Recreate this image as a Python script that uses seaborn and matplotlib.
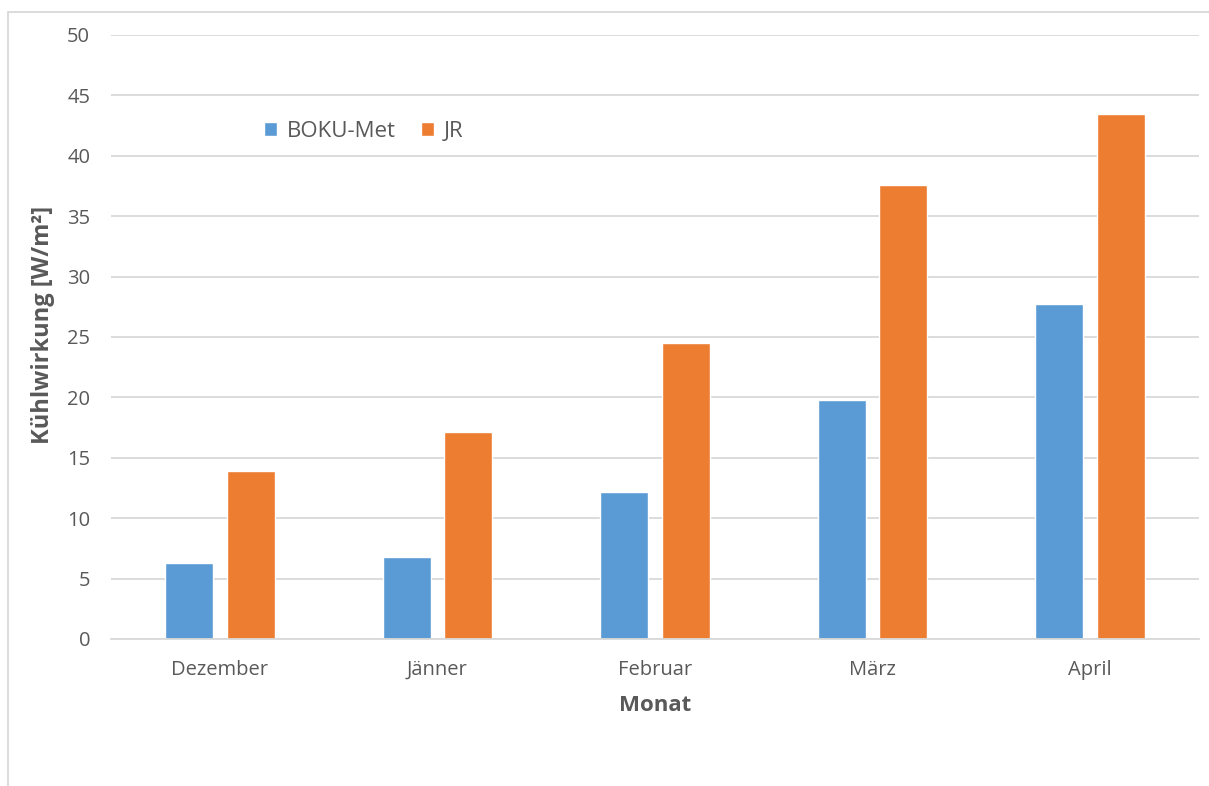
import matplotlib
matplotlib.use("Agg")
import matplotlib.pyplot as plt
import seaborn as sns
import pandas as pd
from matplotlib.lines import Line2D

months = ["Dezember", "Jänner", "Februar", "März", "April"]
boku_met = [6.3, 6.8, 12.2, 19.8, 27.7]
jr = [13.9, 17.1, 24.5, 37.6, 43.5]
series_names = ["BOKU-Met", "JR"]
y_ticks = [0, 5, 10, 15, 20, 25, 30, 35, 40, 45, 50]

df = pd.DataFrame({
    "Monat": months * 2,
    "Wert": boku_met + jr,
    "Serie": [series_names[0]] * len(months) + [series_names[1]] * len(months),
})

sns.set_theme(style="white")
plt.rcParams["font.family"] = ["Open Sans", "DejaVu Sans"]

fig = plt.figure(figsize=(12.09, 7.86), dpi=100)
ax = fig.add_axes([111 / 1209, 1 - 639 / 786, (1199 - 111) / 1209, (639 - 35) / 786])

palette = {"BOKU-Met": "#5B9BD5", "JR": "#ED7D31"}
sns.barplot(data=df, x="Monat", y="Wert", hue="Serie", order=months,
            hue_order=series_names, palette=palette, width=0.565, gap=0.22,
            saturation=1, ax=ax, legend=True)

ax.set_ylim(0, 50)
ax.set_xlim(-0.5, len(months) - 0.5)
ax.set_yticks(y_ticks)
ax.yaxis.grid(True, color="#d9d9d9", linewidth=1.3)
ax.set_axisbelow(True)
for s in ["top", "right", "left"]:
    ax.spines[s].set_visible(False)
ax.spines["bottom"].set_color("#d9d9d9")
ax.spines["bottom"].set_linewidth(1.3)
ax.tick_params(axis="both", length=0, colors="#595959", labelsize=14.5)
ax.tick_params(axis="y", pad=15)
ax.tick_params(axis="x", pad=15)

ax.set_xlabel("Monat", fontsize=16, fontweight="bold", color="#595959", labelpad=11)
ax.set_ylabel("Kühlwirkung [W/m²]", fontsize=17, fontweight="bold", color="#595959", labelpad=9)
ax.yaxis.label.set_y(0.52)

handles, labels = ax.get_legend_handles_labels()
leg = ax.legend(handles, labels, ncol=2, frameon=False, loc="center left",
                bbox_to_anchor=(0.1406, 0.841), fontsize=16, labelcolor="#595959",
                borderpad=0, borderaxespad=0,
                handlelength=0.6, handleheight=0.6, handletextpad=0.45, columnspacing=1.1)

# chart-area border (left and top visible)
fig.add_artist(Line2D([8 / 1209, 8 / 1209], [0, 1 - 12 / 786], transform=fig.transFigure,
                      color="#d9d9d9", linewidth=1.3))
fig.add_artist(Line2D([8 / 1209, 1], [1 - 12 / 786, 1 - 12 / 786], transform=fig.transFigure,
                      color="#d9d9d9", linewidth=1.3))

fig.savefig("out.png", dpi=100)
